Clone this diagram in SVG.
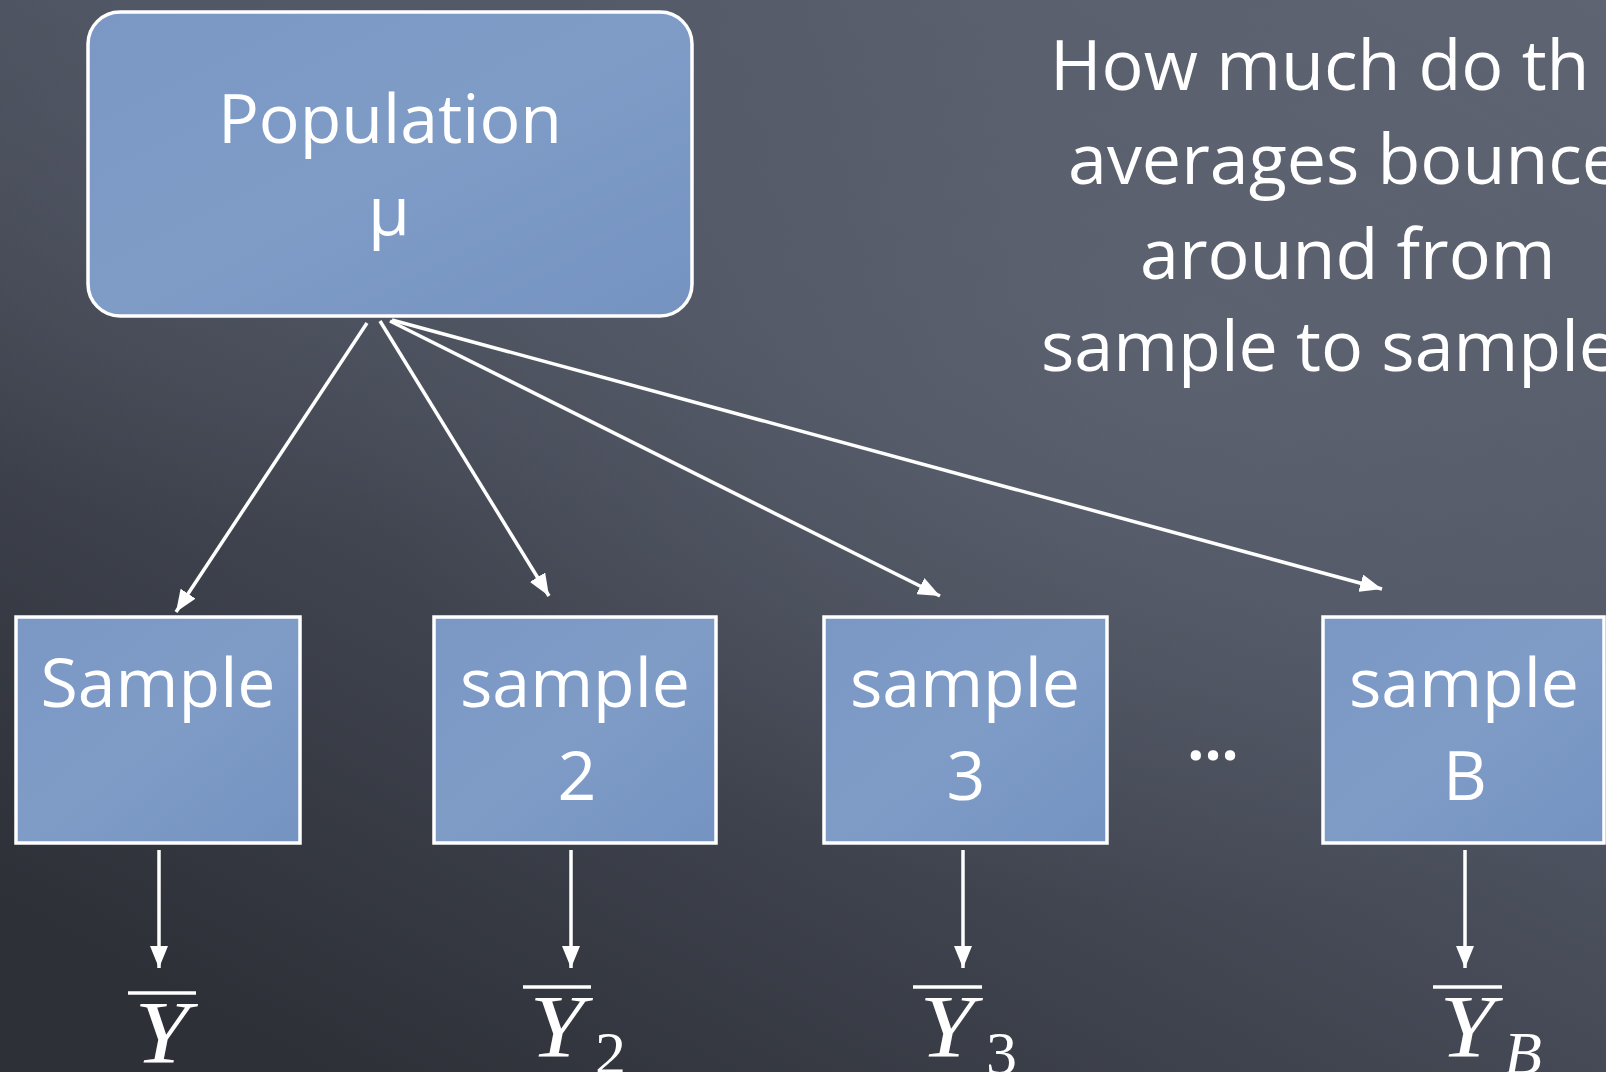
<svg xmlns="http://www.w3.org/2000/svg" width="1606" height="1072" viewBox="0 0 1606 1072">
<defs>
  <linearGradient id="bg" x1="1" y1="0" x2="0.2" y2="1">
    <stop offset="0" stop-color="#5d6370"/>
    <stop offset="0.45" stop-color="#4f5462"/>
    <stop offset="1" stop-color="#2d3037"/>
  </linearGradient>
  <radialGradient id="glow" cx="0.75" cy="0.3" r="0.55">
    <stop offset="0" stop-color="#626876" stop-opacity="0.6"/>
    <stop offset="1" stop-color="#626876" stop-opacity="0"/>
  </radialGradient>
  <radialGradient id="glow2" cx="0.2" cy="0.1" r="0.4">
    <stop offset="0" stop-color="#555a68" stop-opacity="0.7"/>
    <stop offset="1" stop-color="#555a68" stop-opacity="0"/>
  </radialGradient>
  <linearGradient id="boxfill" x1="0" y1="0" x2="1" y2="1">
    <stop offset="0" stop-color="#7b98c5"/>
    <stop offset="0.5" stop-color="#7f9cc7"/>
    <stop offset="1" stop-color="#7593c1"/>
  </linearGradient>
  <marker id="ah" viewBox="0 0 22 18" refX="22" refY="9" markerWidth="22" markerHeight="18" markerUnits="userSpaceOnUse" orient="auto">
    <path d="M0,0 L22,9 L0,18 z" fill="#ffffff"/>
  </marker>
</defs>
<style>
  .box { fill: url(#boxfill); stroke: #ffffff; stroke-width: 3.5; }
  .lbl { font-family: "Open Sans", "Noto Sans", sans-serif; font-size: 68px; fill: #ffffff; text-anchor: middle; }
  .note { font-family: "Open Sans", "Noto Sans", sans-serif; font-size: 70px; fill: #ffffff; }
  .conn { stroke: #ffffff; stroke-width: 3.5; fill: none; marker-end: url(#ah); }
  .math { font-family: "Liberation Serif", "DejaVu Serif", serif; font-style: italic; fill: #ffffff; }
  .bar { stroke: #ffffff; stroke-width: 3.5; }
</style>
<rect x="0" y="0" width="1606" height="1072" fill="url(#bg)"/>
<rect x="0" y="0" width="1606" height="1072" fill="url(#glow)"/>
<rect x="0" y="0" width="1606" height="1072" fill="url(#glow2)"/>

<g id="population">
  <rect class="box" x="88" y="12" width="604" height="304" rx="32" ry="32"/>
  <text class="lbl" x="390" y="143">Population</text>
  <text class="lbl" x="389" y="235">μ</text>
</g>

<g id="sample1">
  <rect class="box" x="16" y="617" width="284" height="226"/>
  <text class="lbl" x="158" y="707">Sample</text>
</g>
<g id="sample2">
  <rect class="box" x="434" y="617" width="282" height="226"/>
  <text class="lbl" x="575" y="707">sample</text>
  <text class="lbl" x="577" y="800">2</text>
</g>
<g id="sample3">
  <rect class="box" x="824" y="617" width="283" height="226"/>
  <text class="lbl" x="965" y="707">sample</text>
  <text class="lbl" x="966" y="800">3</text>
</g>
<g id="sampleB">
  <rect class="box" x="1323" y="617" width="281" height="226"/>
  <text class="lbl" x="1464" y="707">sample</text>
  <text class="lbl" x="1465" y="800">B</text>
</g>

<g id="ellipsis">
  <text class="lbl" x="1213" y="760" style="font-size:60px;font-weight:700">...</text>
</g>

<g id="question">
  <text class="note" x="1050" y="90">How much do th</text>
  <text class="note" x="1068" y="184">averages bounce</text>
  <text class="note" x="1140" y="279">around from</text>
  <text class="note" x="1041" y="371">sample to sample</text>
</g>

<g id="ybar1">
  <line class="bar" x1="128" y1="993" x2="196" y2="993"/>
  <text class="math" transform="translate(162,1062) scale(1.12,1)" style="font-size:88px" text-anchor="middle">Y</text>
</g>
<g id="ybar2">
  <line class="bar" x1="523" y1="987" x2="591" y2="987"/>
  <text class="math" transform="translate(557,1056) scale(1.12,1)" style="font-size:88px" text-anchor="middle">Y</text>
  <text class="math" x="595" y="1074" style="font-size:62px;font-style:normal">2</text>
</g>
<g id="ybar3">
  <line class="bar" x1="913" y1="987" x2="982" y2="987"/>
  <text class="math" transform="translate(947,1056) scale(1.12,1)" style="font-size:88px" text-anchor="middle">Y</text>
  <text class="math" x="986" y="1074" style="font-size:62px;font-style:normal">3</text>
</g>
<g id="ybarB">
  <line class="bar" x1="1433" y1="987" x2="1502" y2="987"/>
  <text class="math" transform="translate(1467,1056) scale(1.12,1)" style="font-size:88px" text-anchor="middle">Y</text>
  <text class="math" x="1504" y="1074" style="font-size:62px">B</text>
</g>

<g id="connectors">
  <line class="conn" x1="367" y1="323" x2="176" y2="612"/>
  <line class="conn" x1="380" y1="321" x2="549" y2="596"/>
  <line class="conn" x1="390" y1="321" x2="940" y2="596"/>
  <line class="conn" x1="392" y1="320" x2="1382" y2="589"/>
  <line class="conn" x1="159" y1="850" x2="159" y2="968"/>
  <line class="conn" x1="571" y1="850" x2="571" y2="968"/>
  <line class="conn" x1="963" y1="850" x2="963" y2="968"/>
  <line class="conn" x1="1465" y1="850" x2="1465" y2="968"/>
</g>
</svg>
